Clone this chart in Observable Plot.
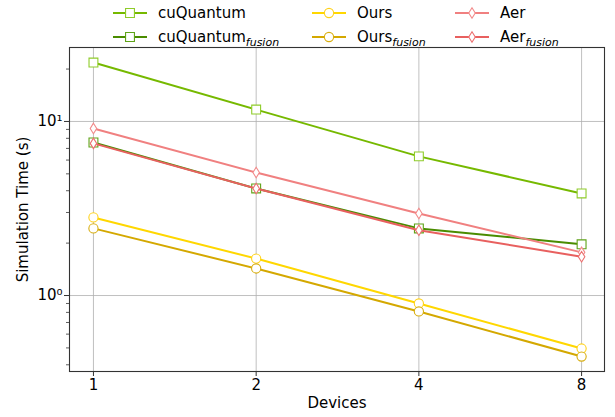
<!DOCTYPE html>
<html>
<head>
<meta charset="utf-8">
<script src="https://cdn.jsdelivr.net/npm/d3@7"></script>
<script src="https://cdn.jsdelivr.net/npm/@observablehq/plot@0.6"></script>
<style>
  html, body { margin: 0; padding: 0; background: #fff; }
  #wrap { width: 615px; font-family: "DejaVu Sans", sans-serif; }
  #legend { position: relative; width: 615px; height: 46px; }
  .item { position: absolute; display: flex; align-items: center; font-size: 15px; color: #000; height: 20px; }
  .item svg { margin-right: 11px; }
  .item sub { font-style: italic; font-size: 11px; vertical-align: -4px; line-height: 0; }
</style>
</head>
<body>
<div id="wrap">
  <div id="legend"></div>
  <div id="chart"></div>
</div>
<script>
// ---- data ----
const devices = [1, 2, 4, 8];
const cuQuantum       = [21.8, 11.7, 6.3, 3.86];
const cuQuantumFusion = [7.57, 4.12, 2.43, 1.97];
const ours            = [2.81, 1.63, 0.90, 0.496];
const oursFusion      = [2.43, 1.43, 0.81, 0.446];
const aer             = [9.12, 5.09, 2.96, 1.77];
const aerFusion       = [7.48, 4.12, 2.37, 1.67];
const seriesNames = ["cuQuantum", "cuQuantum_fusion", "Ours", "Ours_fusion", "Aer", "Aer_fusion"];
const seriesValues = [cuQuantum, cuQuantumFusion, ours, oursFusion, aer, aerFusion];
const xTicks = [1, 2, 4, 8];
const yMajorTicks = [1, 10];
const yMajorLabels = ["10⁰", "10¹"];
const yMinorTicks = [0.4, 0.5, 0.6, 0.7, 0.8, 0.9, 2, 3, 4, 5, 6, 7, 8, 9, 20];
const xLabel = "Devices";
const yLabel = "Simulation Time (s)";

// ---- styles ----
const thinDiamond = {
  draw(ctx, size) {
    const r = Math.sqrt(size / Math.PI);
    const h = r * 1.05, w = r * 0.65;
    ctx.moveTo(0, -h); ctx.lineTo(w, 0); ctx.lineTo(0, h); ctx.lineTo(-w, 0); ctx.closePath();
  }
};
const styles = {
  "cuQuantum":        {line: "#76b900", mark: "#8fcc2a", symbol: "square", r: 5},
  "cuQuantum_fusion": {line: "#4a8c00", mark: "#5fa318", symbol: "square", r: 5},
  "Ours":             {line: "#ffd700", mark: "#ffd21a", symbol: "circle", r: 4.6},
  "Ours_fusion":      {line: "#d4a800", mark: "#d8ae10", symbol: "circle", r: 4.6},
  "Aer":              {line: "#f08080", mark: "#f28a8a", symbol: thinDiamond, r: 5},
  "Aer_fusion":       {line: "#e8605f", mark: "#ec7070", symbol: thinDiamond, r: 5}
};

const table = seriesNames.flatMap((name, i) =>
  devices.map((d, j) => ({series: name, devices: d, time: seriesValues[i][j]})));

const marks = [
  Plot.gridX(xTicks, {stroke: "#b0b0b0", strokeOpacity: 1, strokeWidth: 0.8}),
  Plot.gridY(yMajorTicks, {stroke: "#b0b0b0", strokeOpacity: 1, strokeWidth: 0.8}),
];
for (const name of seriesNames) {
  const s = styles[name];
  const data = table.filter(d => d.series === name);
  marks.push(Plot.line(data, {x: "devices", y: "time", stroke: s.line, strokeWidth: 2}));
  marks.push(Plot.dot(data, {x: "devices", y: "time", symbol: s.symbol, r: s.r, fill: "white", stroke: s.mark, strokeWidth: 1.1}));
}
marks.push(
  Plot.frame({stroke: "#333", strokeWidth: 1.1}),
  Plot.axisX(xTicks, {tickSize: 5, tickPadding: 3, tickFormat: d => String(d), fontSize: 15, label: null, stroke: "#333"}),
  Plot.axisY(yMajorTicks, {tickSize: 5, tickPadding: 2, tickFormat: d => yMajorLabels[yMajorTicks.indexOf(d)], fontSize: 15, label: null, stroke: "#333"}),
  Plot.axisY(yMinorTicks, {tickSize: 3, tickFormat: () => "", label: null, stroke: "#333", strokeWidth: 0.8}),
  Plot.text([xLabel], {frameAnchor: "bottom", dy: 32, lineAnchor: "middle", textAnchor: "middle", text: d => d, fontSize: 15, fill: "#000"}),
  Plot.text([yLabel], {frameAnchor: "left", dx: -46, rotate: -90, textAnchor: "middle", lineAnchor: "middle", text: d => d, fontSize: 15, fill: "#000"})
);

const chart = Plot.plot({
  width: 615,
  height: 371,
  marginTop: 1,
  marginBottom: 46,
  marginLeft: 69,
  marginRight: 11,
  style: {fontFamily: "DejaVu Sans, sans-serif", fontSize: "15px", color: "#000", background: "white"},
  x: {type: "log", base: 2, domain: [0.903, 8.82], axis: null},
  y: {type: "log", domain: [0.366, 26.6], axis: null},
  marks
});
document.getElementById("chart").appendChild(chart);

// ---- legend ----
const legend = document.getElementById("legend");
const cols = [113, 312, 455];
const rows = [3, 27];
seriesNames.forEach((name, i) => {
  const s = styles[name];
  const col = Math.floor(i / 2), row = i % 2;
  const div = document.createElement("div");
  div.className = "item";
  div.style.left = cols[col] + "px";
  div.style.top = rows[row] + "px";
  const svg = d3.create("svg").attr("width", 34).attr("height", 20);
  svg.append("line").attr("x1", 0).attr("x2", 34).attr("y1", 10).attr("y2", 10).attr("stroke", s.line).attr("stroke-width", 2);
  const sym = typeof s.symbol === "string" ? (s.symbol === "square" ? d3.symbolSquare : d3.symbolCircle) : s.symbol;
  svg.append("path").attr("transform", "translate(17,10)")
    .attr("d", d3.symbol(sym, Math.PI * s.r * s.r)())
    .attr("fill", "white").attr("stroke", s.mark).attr("stroke-width", 1.1);
  div.appendChild(svg.node());
  const label = document.createElement("span");
  const parts = name.split("_");
  label.textContent = parts[0];
  if (parts[1]) {
    const sub = document.createElement("sub");
    sub.textContent = parts[1];
    label.appendChild(sub);
  }
  div.appendChild(label);
  legend.appendChild(div);
});
</script>
</body>
</html>
